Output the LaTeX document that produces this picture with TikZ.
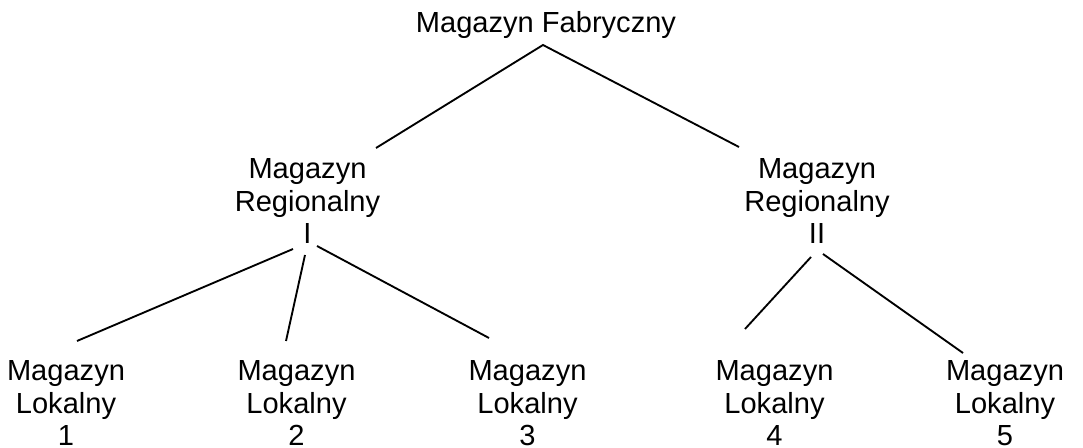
\documentclass[tikz,border=0pt]{standalone}
\usepackage{fontspec}
\setmainfont{Liberation Sans}
\begin{document}
\begin{tikzpicture}[x=0.75pt,y=-0.75pt,
  lbl/.style={align=center,inner sep=0pt,anchor=base,font=\fontsize{21.8}{24.5}\selectfont},
  edge/.style={line width=1.4pt}]
\useasboundingbox (0,0) rectangle (1083,448);
\node[lbl] (top) at (546,33) {Magazyn Fabryczny};
\node[lbl] (r1) at (307.5,244) {Magazyn\\Regionalny\\I};
\node[lbl] (r2) at (817,244) {Magazyn\\Regionalny\\II};
\node[lbl] (l1) at (66,446) {Magazyn\\Lokalny\\1};
\node[lbl] (l2) at (296.5,446) {Magazyn\\Lokalny\\2};
\node[lbl] (l3) at (527.5,446) {Magazyn\\Lokalny\\3};
\node[lbl] (l4) at (774.5,446) {Magazyn\\Lokalny\\4};
\node[lbl] (l5) at (1005,446) {Magazyn\\Lokalny\\5};
% connector end points
\coordinate (topA) at (543,45);
\coordinate (r1in) at (376,148);
\coordinate (r2in) at (739,147);
\coordinate (r1o1) at (293,249);
\coordinate (r1o2) at (305,255);
\coordinate (r1o3) at (317,246);
\coordinate (l1in) at (77,341);
\coordinate (l2in) at (286,341);
\coordinate (l3in) at (489,338);
\coordinate (r2o4) at (811,257);
\coordinate (r2o5) at (823,254);
\coordinate (l4in) at (745,329);
\coordinate (l5in) at (963,353);
\draw[edge] (r1in) -- (topA) -- (r2in);
\draw[edge] (r1o1) -- (l1in);
\draw[edge] (r1o2) -- (l2in);
\draw[edge] (r1o3) -- (l3in);
\draw[edge] (r2o4) -- (l4in);
\draw[edge] (r2o5) -- (l5in);
\end{tikzpicture}
\end{document}
